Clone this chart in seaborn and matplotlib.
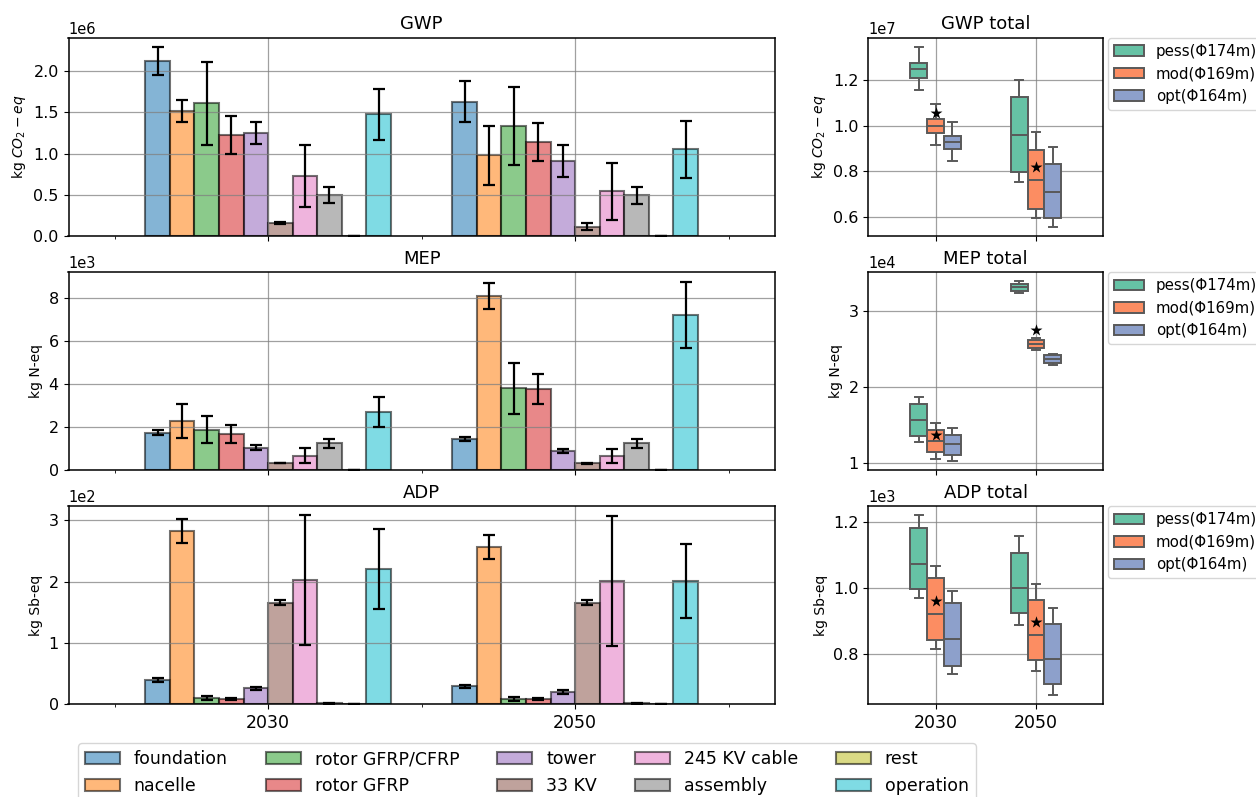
import numpy as np
import pandas as pd
import seaborn as sns
import matplotlib.pyplot as plt
from matplotlib.ticker import FixedLocator, MultipleLocator

# components and years
components = ["foundation", "nacelle", "rotor GFRP/CFRP", "rotor GFRP", "tower",
              "33 KV", "245 KV cable", "assembly", "rest", "operation"]
years = ["2030", "2050"]
scenarios = ["pess(\u03a6174m)", "mod(\u03a6169m)", "opt(\u03a6164m)"]

# GWP per component (x1e6 kg CO2-eq), error = half width
gwp_2030 = [2.12, 1.515, 1.61, 1.22, 1.25, 0.157, 0.727, 0.50, 0.005, 1.475]
gwp_2030_err = [0.17, 0.13, 0.505, 0.23, 0.133, 0.008, 0.376, 0.10, 0.0, 0.313]
gwp_2050 = [1.628, 0.978, 1.333, 1.135, 0.909, 0.113, 0.54, 0.493, 0.005, 1.05]
gwp_2050_err = [0.25, 0.355, 0.47, 0.23, 0.19, 0.04, 0.34, 0.10, 0.0, 0.35]

# MEP per component (x1e3 kg N-eq)
mep_2030 = [1.74, 2.28, 1.88, 1.68, 1.04, 0.326, 0.67, 1.24, 0.01, 2.70]
mep_2030_err = [0.13, 0.81, 0.63, 0.41, 0.11, 0.01, 0.35, 0.22, 0.0, 0.69]
mep_2050 = [1.44, 8.08, 3.79, 3.76, 0.87, 0.31, 0.65, 1.24, 0.01, 7.22]
mep_2050_err = [0.10, 0.60, 1.17, 0.71, 0.10, 0.01, 0.33, 0.22, 0.0, 1.53]

# ADP per component (x1e2 kg Sb-eq)
adp_2030 = [0.396, 2.826, 0.103, 0.092, 0.26, 1.657, 2.02, 0.017, 0.005, 2.206]
adp_2030_err = [0.035, 0.19, 0.03, 0.018, 0.027, 0.045, 1.06, 0.005, 0.0, 0.65]
adp_2050 = [0.293, 2.565, 0.092, 0.08, 0.20, 1.657, 2.016, 0.017, 0.003, 2.01]
adp_2050_err = [0.022, 0.19, 0.035, 0.015, 0.027, 0.045, 1.06, 0.005, 0.0, 0.60]

# totals: [low whisker, q1, median, q3, high whisker] per scenario and year
gwp_tot_2030 = [[1.156, 1.209, 1.248, 1.277, 1.347],
                [0.916, 0.969, 1.001, 1.029, 1.095],
                [0.847, 0.897, 0.928, 0.955, 1.018]]
gwp_tot_2050 = [[0.754, 0.796, 0.960, 1.128, 1.203],
                [0.597, 0.636, 0.762, 0.894, 0.972],
                [0.556, 0.597, 0.710, 0.831, 0.907]]
mep_tot_2030 = [[1.270, 1.353, 1.567, 1.768, 1.864],
                [1.052, 1.140, 1.292, 1.436, 1.527],
                [1.022, 1.104, 1.245, 1.370, 1.462]]
mep_tot_2050 = [[3.236, 3.262, 3.314, 3.362, 3.393],
                [2.493, 2.519, 2.563, 2.620, 2.641],
                [2.293, 2.319, 2.362, 2.414, 2.440]]
adp_tot_2030 = [[0.970, 0.997, 1.073, 1.183, 1.221],
                [0.816, 0.842, 0.922, 1.031, 1.067],
                [0.740, 0.766, 0.845, 0.955, 0.991]]
adp_tot_2050 = [[0.888, 0.926, 1.001, 1.107, 1.157],
                [0.748, 0.783, 0.859, 0.965, 1.013],
                [0.676, 0.710, 0.786, 0.892, 0.940]]

# reference (star) values
gwp_star = [1.058, 0.819]
mep_star = [1.37, 2.75]
adp_star = [0.961, 0.897]

plt.rcParams["font.family"] = ["DejaVu Sans"]
plt.rcParams["axes.linewidth"] = 1.1

W, H = 1256, 797
fig = plt.figure(figsize=(W / 100, H / 100), dpi=100)


def rect(x0, x1, top, bottom):
    return [x0 / W, 1 - bottom / H, (x1 - x0) / W, (bottom - top) / H]


def bar_panel(ax, v30, e30, v50, e50, scale, title, ylabel, show_x):
    rows = []
    for yr, vals, errs in [("2030", v30, e30), ("2050", v50, e50)]:
        for comp, v, e in zip(components, vals, errs):
            rows.append({"year": yr, "component": comp, "value": v * scale, "err": e * scale})
    df = pd.DataFrame(rows)
    sns.barplot(data=df, x="year", y="value", hue="component", order=years,
                hue_order=components, palette="tab10", saturation=1, alpha=0.55,
                edgecolor="k", linewidth=1.5, errorbar=None, width=0.8, ax=ax)
    # error bars at bar centres
    for comp, cont in zip(components, ax.containers):
        for bar in cont:
            xc = bar.get_x() + bar.get_width() / 2
            yr = years[int(round(xc))]
            row = df[(df.year == yr) & (df.component == comp)].iloc[0]
            ax.errorbar(xc, row.value, yerr=row.err, fmt="none", ecolor="k",
                        elinewidth=1.6, capsize=4.5, capthick=1.6)
    ax.set_xlim(-0.65, 1.65)
    ax.xaxis.set_minor_locator(FixedLocator([-0.5, 0.5, 1.5]))
    ax.grid(True, which="major", color="grey", alpha=0.75, linewidth=0.9)
    ax.ticklabel_format(axis="y", style="sci", scilimits=(0, 0))
    ax.yaxis.get_offset_text().set_fontsize(10.5)
    ax.tick_params(labelsize=11.5)
    ax.set_title(title, fontsize=13)
    ax.set_ylabel(ylabel, fontsize=10)
    ax.set_xlabel("")
    if not show_x:
        ax.tick_params(axis="x", labelbottom=False)
    else:
        ax.tick_params(axis="x", labelsize=12.5)


def box_panel(ax, t30, t50, star, scale, step, title, ylabel, show_x):
    rows = []
    for yr, boxes in [("2030", t30), ("2050", t50)]:
        for sc, vals in zip(scenarios, boxes):
            for v in vals:
                rows.append({"year": yr, "scenario": sc, "value": v * scale})
    df = pd.DataFrame(rows)
    sns.boxplot(data=df, x="year", y="value", hue="scenario", order=years,
                hue_order=scenarios, palette="Set2", saturation=1, width=0.5,
                gap=0, whis=(0, 100), linewidth=1.4, fliersize=0, ax=ax)
    sns.stripplot(x=years, y=[s * scale for s in star], order=years, marker="*",
                  color="k", size=9, jitter=False, zorder=5, ax=ax)
    ax.set_xlim(-0.67, 1.67)
    ax.yaxis.set_major_locator(MultipleLocator(step * scale))
    ax.grid(True, color="grey", alpha=0.75, linewidth=0.9)
    ax.ticklabel_format(axis="y", style="sci", scilimits=(0, 0))
    ax.yaxis.get_offset_text().set_fontsize(10.5)
    ax.tick_params(labelsize=11.5)
    ax.set_title(title, fontsize=13)
    ax.set_ylabel(ylabel, fontsize=10)
    ax.set_xlabel("")
    sns.move_legend(ax, "upper left", bbox_to_anchor=(1.02, 1.0), borderaxespad=0,
                    fontsize=10.8, title=None)
    if not show_x:
        ax.tick_params(axis="x", labelbottom=False)
    else:
        ax.tick_params(axis="x", labelsize=12.5)


ax_gwp = fig.add_axes(rect(68.5, 774.7, 37.7, 236))
ax_mep = fig.add_axes(rect(68.5, 774.7, 272.3, 470))
ax_adp = fig.add_axes(rect(68.5, 774.7, 506, 704.3))
bx_gwp = fig.add_axes(rect(868.3, 1103.3, 37.7, 236))
bx_mep = fig.add_axes(rect(868.3, 1103.3, 272.3, 470))
bx_adp = fig.add_axes(rect(868.3, 1103.3, 506, 704.3))

bar_panel(ax_gwp, gwp_2030, gwp_2030_err, gwp_2050, gwp_2050_err, 1e6,
          "GWP", "kg $CO_2-eq$", False)
bar_panel(ax_mep, mep_2030, mep_2030_err, mep_2050, mep_2050_err, 1e3,
          "MEP", "kg N-eq", False)
bar_panel(ax_adp, adp_2030, adp_2030_err, adp_2050, adp_2050_err, 1e2,
          "ADP", "kg Sb-eq", True)

box_panel(bx_gwp, gwp_tot_2030, gwp_tot_2050, gwp_star, 1e7, 0.2, "GWP total", "kg $CO_2-eq$", False)
box_panel(bx_mep, mep_tot_2030, mep_tot_2050, mep_star, 1e4, 1.0, "MEP total", "kg N-eq", False)
box_panel(bx_adp, adp_tot_2030, adp_tot_2050, adp_star, 1e3, 0.2, "ADP total", "kg Sb-eq", True)

# shared component legend below the bar panels
leg = ax_gwp.get_legend()
handles = leg.legend_handles
labels = [t.get_text() for t in leg.get_texts()]
for ax in [ax_gwp, ax_mep, ax_adp]:
    ax.get_legend().remove()
fig.legend(handles, labels, ncol=5, loc="upper left",
           bbox_to_anchor=(78.3 / W, 1 - 743.3 / H), borderaxespad=0,
           fontsize=12.5, columnspacing=2.2)

fig.savefig("out.png", dpi=100)
